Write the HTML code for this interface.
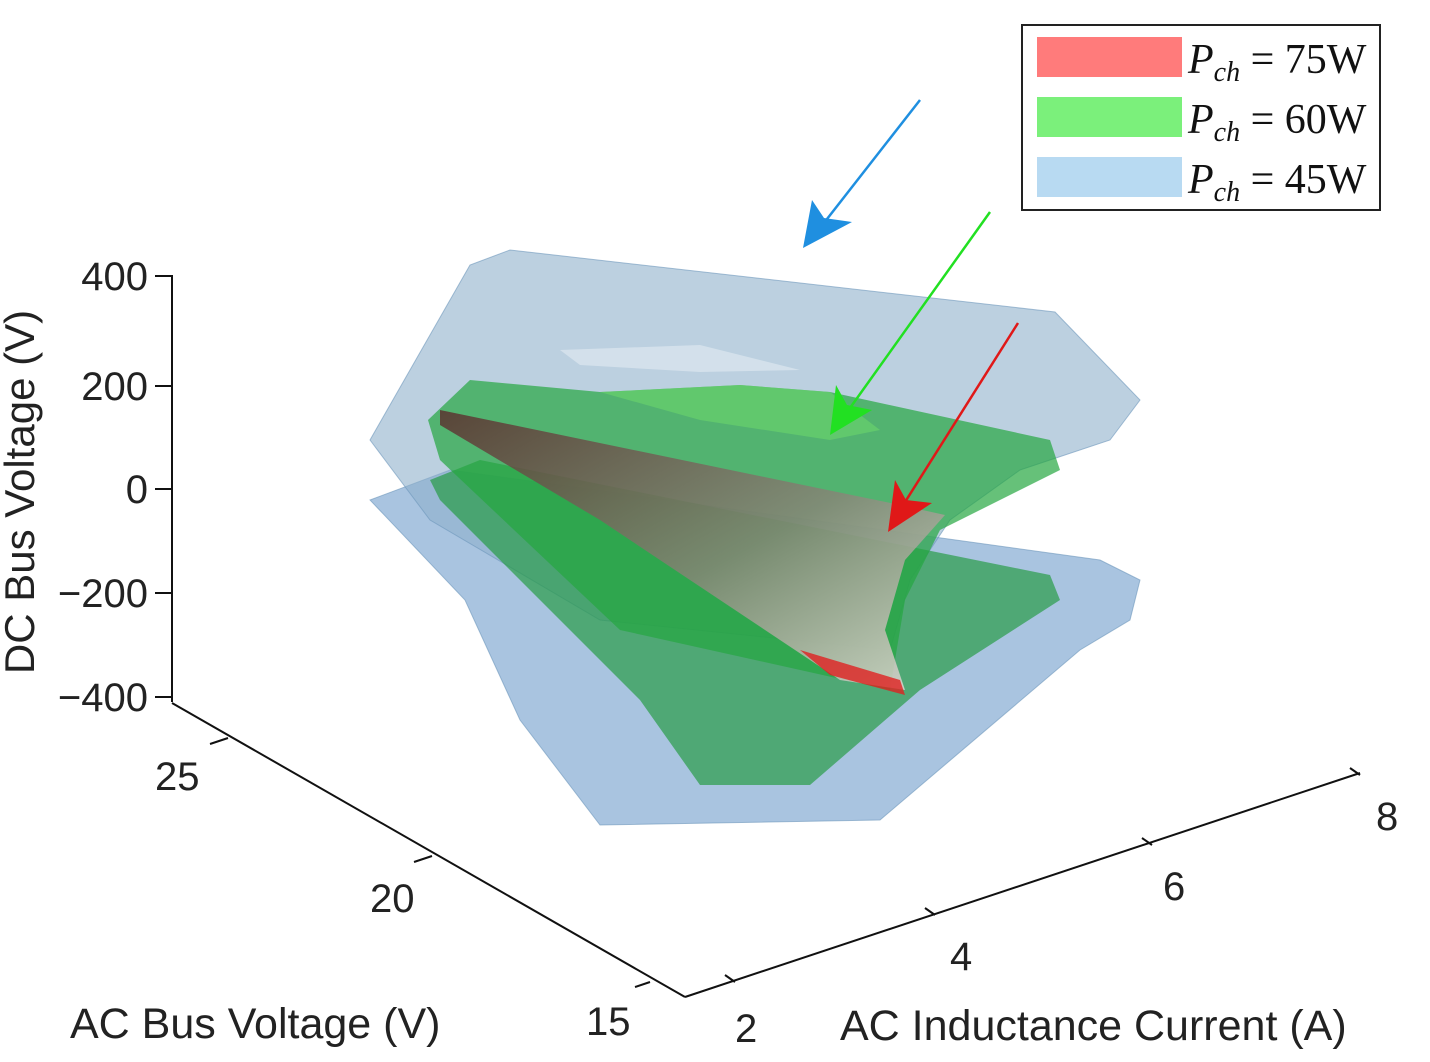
<!DOCTYPE html>
<html><head><meta charset="utf-8"><style>
html,body{margin:0;padding:0;background:#fff;}
svg{display:block;}
.t{font-family:"Liberation Sans",sans-serif;font-size:40px;fill:#222;}
.a{font-family:"Liberation Sans",sans-serif;font-size:43px;fill:#222;}
.l{font-family:"Liberation Serif",serif;font-size:42px;fill:#111;}
</style></head><body>
<svg width="1430" height="1062" viewBox="0 0 1430 1062">
<defs>
<linearGradient id="rg" x1="0" y1="0" x2="1" y2="1">
<stop offset="0" stop-color="#5a2a2a"/><stop offset="0.55" stop-color="#8a8478"/><stop offset="1" stop-color="#f0e0e0"/>
</linearGradient>
</defs>
<polygon points="370,500 450,470 1100,560 1140,580 1130,620 1080,650 880,820 600,825 520,720 465,600" fill="#6f9ccc" fill-opacity="0.6" stroke="#6d96bb" stroke-opacity="0.6"/>
<polygon points="370,440 470,265 510,250 1055,312 1140,400 1110,440 1020,470 950,520 910,580 890,650 600,620 430,520" fill="#8fb0cc" fill-opacity="0.6" stroke="#6d96bb" stroke-opacity="0.6"/>
<polygon points="560,350 700,345 800,370 700,372 580,365" fill="#ffffff" fill-opacity="0.35"/>
<polygon points="430,480 480,460 1050,575 1060,600 920,690 810,785 700,785 640,700 440,500" fill="#1f9a3c" fill-opacity="0.65"/>
<polygon points="428,420 470,380 600,392 740,385 830,392 1050,440 1060,470 940,530 905,600 890,690 620,630 440,460" fill="#25a640" fill-opacity="0.7"/>
<polygon points="600,392 740,385 830,392 880,430 830,440 700,420" fill="#6cd66a" fill-opacity="0.6"/>
<polygon points="440,410 900,505 945,515 905,560 885,630 905,690 840,680 600,520 440,425" fill="url(#rg)" fill-opacity="0.8"/>
<polygon points="800,650 900,680 905,695 830,675" fill="#e02020" fill-opacity="0.8"/>
<g stroke="#111" stroke-width="2" fill="none">
<line x1="172" y1="275" x2="172" y2="702"/>
<line x1="155" y1="276" x2="172" y2="276"/>
<line x1="155" y1="386" x2="172" y2="386"/>
<line x1="155" y1="489" x2="172" y2="489"/>
<line x1="155" y1="593" x2="172" y2="593"/>
<line x1="155" y1="697" x2="172" y2="697"/>
<line x1="172" y1="703" x2="685" y2="997"/>
<line x1="685" y1="997" x2="1360" y2="773"/>
<line x1="228" y1="738" x2="210" y2="744"/>
<line x1="432" y1="856" x2="414" y2="862"/>
<line x1="650" y1="982" x2="635" y2="987"/>
<line x1="735" y1="982" x2="725" y2="975"/>
<line x1="935" y1="915" x2="925" y2="908"/>
<line x1="1152" y1="845" x2="1142" y2="838"/>
<line x1="1360" y1="775" x2="1350" y2="768"/>
</g>
<g class="t">
<text x="148" y="290" text-anchor="end">400</text>
<text x="148" y="400" text-anchor="end">200</text>
<text x="148" y="503" text-anchor="end">0</text>
<text x="148" y="607" text-anchor="end">−200</text>
<text x="148" y="711" text-anchor="end">−400</text>
<text x="155" y="790">25</text>
<text x="370" y="912">20</text>
<text x="586" y="1035">15</text>
<text x="735" y="1042">2</text>
<text x="950" y="970">4</text>
<text x="1163" y="900">6</text>
<text x="1376" y="830">8</text>
</g>
<text class="a" x="70" y="1038">AC Bus Voltage (V)</text>
<text class="a" x="840" y="1040">AC Inductance Current (A)</text>
<text class="a" style="font-size:42px" transform="translate(34,492) rotate(-90)" text-anchor="middle">DC Bus Voltage (V)</text>
<g stroke-width="2.5" fill="none">
<line x1="920" y1="100" x2="820" y2="228" stroke="#1f8fe0"/>
<line x1="990" y1="212" x2="845" y2="415" stroke="#22e022"/>
<line x1="1018" y1="323" x2="900" y2="510" stroke="#e01818"/>
</g>
<polygon points="803,248 812,200 824,218 852,222" fill="#1f8fe0"/>
<polygon points="830,435 836,385 847,405 872,410" fill="#22e022"/>
<polygon points="888,532 895,480 906,500 932,503" fill="#e01818"/>
<rect x="1022" y="25" width="358" height="185" fill="#fff" stroke="#222" stroke-width="2"/>
<rect x="1037" y="37" width="145" height="40" fill="#ff7b7b"/>
<rect x="1037" y="97" width="145" height="40" fill="#7bf07b"/>
<rect x="1037" y="157" width="145" height="40" fill="#b8daf2"/>
<text class="l" x="1188" y="73"><tspan font-style="italic">P</tspan><tspan font-style="italic" font-size="28" dy="8">ch</tspan><tspan dy="-8"> = 75W</tspan></text>
<text class="l" x="1188" y="133"><tspan font-style="italic">P</tspan><tspan font-style="italic" font-size="28" dy="8">ch</tspan><tspan dy="-8"> = 60W</tspan></text>
<text class="l" x="1188" y="193"><tspan font-style="italic">P</tspan><tspan font-style="italic" font-size="28" dy="8">ch</tspan><tspan dy="-8"> = 45W</tspan></text>
</svg>
</body></html>
